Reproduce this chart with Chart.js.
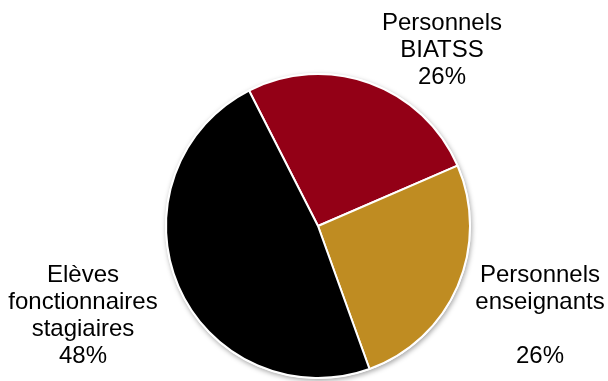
<!DOCTYPE html>
<html>
<head>
<meta charset="utf-8">
<script src="https://cdn.jsdelivr.net/npm/chart.js@4"></script>
<style>
  html, body { margin: 0; padding: 0; background: #fff; }
  #wrap { width: 608px; height: 381px; }
</style>
</head>
<body>
<div id="wrap"><canvas id="pie" width="608" height="381"></canvas></div>
<script>
const categories = ['Personnels\nBIATSS', 'Personnels\nenseignants\n', 'Elèves\nfonctionnaires\nstagiaires'];
const shares = [26, 26, 48];
const sliceColors = ['#930016', '#BF8C22', '#000000'];

// soft shadow under the whole disc
const discShadow = {
    id: 'discShadow',
    beforeDatasetsDraw(chart) {
        const arc = chart.getDatasetMeta(0).data[0];
        if (!arc) return;
        const ctx = chart.ctx;
        ctx.save();
        ctx.shadowColor = 'rgba(0,0,0,0.35)';
        ctx.shadowBlur = 5;
        ctx.shadowOffsetX = 1;
        ctx.shadowOffsetY = 2;
        ctx.fillStyle = '#fff';
        ctx.beginPath();
        ctx.arc(arc.x, arc.y, arc.outerRadius + 1, 0, Math.PI * 2);
        ctx.fill();
        ctx.restore();
    }
};

// category name + percentage outside each slice
const sliceLabels = {
    id: 'sliceLabels',
    afterDatasetsDraw(chart, args, opts) {
        const ctx = chart.ctx;
        const meta = chart.getDatasetMeta(0);
        const total = shares.reduce((a, b) => a + b, 0);
        ctx.save();
        ctx.font = '24px "Liberation Sans", Arial, sans-serif';
        ctx.fillStyle = '#000';
        ctx.textAlign = 'center';
        ctx.textBaseline = 'middle';
        meta.data.forEach((arc, i) => {
            const lines = categories[i].split('\n');
            lines.push(Math.round(shares[i] / total * 100) + '%');
            const off = opts.offsets[i];
            lines.forEach((t, k) => {
                ctx.fillText(t, arc.x + off[0], arc.y + off[1] + k * opts.lineHeight);
            });
        });
        ctx.restore();
    }
};

new Chart(document.getElementById('pie').getContext('2d'), {
    type: 'pie',
    data: {
        labels: categories,
        datasets: [{
            data: shares,
            backgroundColor: sliceColors,
            borderColor: '#fff',
            borderWidth: 2
        }]
    },
    options: {
        responsive: false,
        animation: false,
        rotation: -27,
        layout: { padding: { top: 73, bottom: 2, left: 165, right: 137 } },
        plugins: {
            legend: { display: false },
            tooltip: { enabled: false },
            sliceLabels: {
                lineHeight: 27,
                offsets: [[124, -203], [222, 49], [-235, 49]]
            }
        }
    },
    plugins: [discShadow, sliceLabels]
});
</script>
</body>
</html>
